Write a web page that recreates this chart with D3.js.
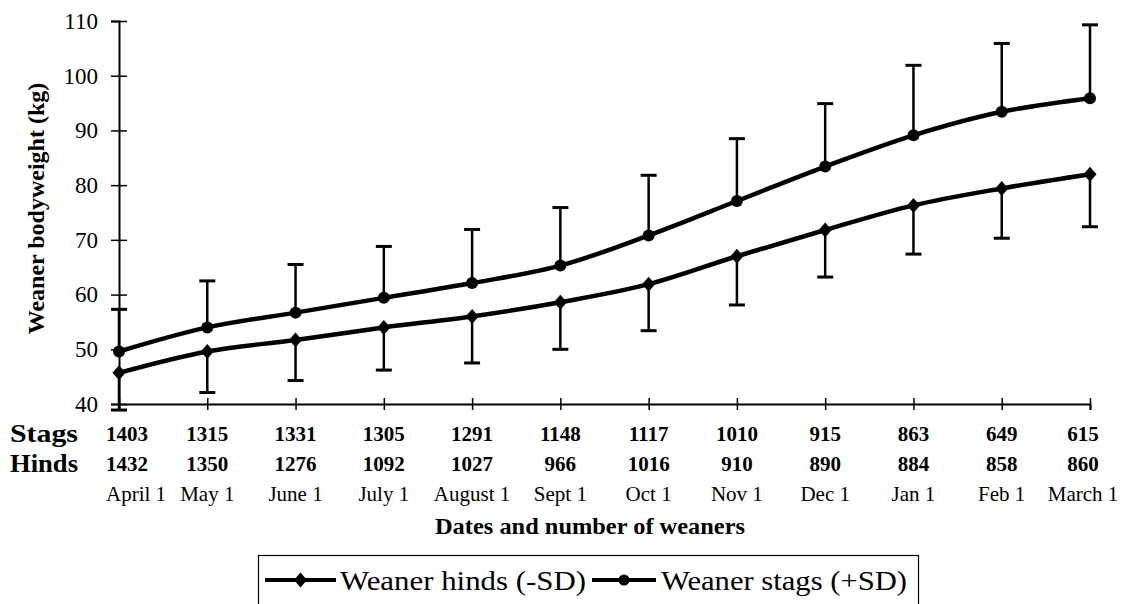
<!DOCTYPE html>
<html>
<head>
<meta charset="utf-8">
<script src="https://cdn.jsdelivr.net/npm/d3@7"></script>
<style>
  body { margin: 0; background: #fff; }
  text { font-family: "Liberation Serif", "Times New Roman", serif; fill: #000; }
</style>
</head>
<body>
<div id="container"></div>
<script>
// datos
var fechas = ["April 1", "May 1", "June 1", "July 1", "August 1", "Sept 1", "Oct 1", "Nov 1", "Dec 1", "Jan 1", "Feb 1", "March 1"]
var numStags = [1403, 1315, 1331, 1305, 1291, 1148, 1117, 1010, 915, 863, 649, 615]
var numHinds = [1432, 1350, 1276, 1092, 1027, 966, 1016, 910, 890, 884, 858, 860]
var mediaStags = [49.6, 54.0, 56.7, 59.4, 62.1, 65.3, 70.8, 77.1, 83.4, 89.1, 93.4, 95.9]
var sdStags = [7.7, 8.5, 8.8, 9.4, 9.8, 10.6, 11.0, 11.4, 11.5, 12.8, 12.5, 13.4]
var mediaHinds = [45.7, 49.6, 51.7, 54.0, 56.0, 58.6, 61.9, 67.0, 71.8, 76.3, 79.4, 82.0]
var sdHinds = [6.8, 7.5, 7.4, 7.8, 8.5, 8.6, 8.5, 8.9, 8.6, 8.9, 9.1, 9.6]
var ticksY = [40, 50, 60, 70, 80, 90, 100, 110]

var ancho = 1130
var alto = 604

var svg = d3.select("#container")
  .append("svg")
  .attr("width", ancho)
  .attr("height", alto)
  .attr("font-family", "Liberation Serif")

// escalas
var x = d3.scalePoint().domain(fechas).range([119, 1090])
var y = d3.scaleLinear().domain([40, 110]).range([404, 21])

// eje Y
var ejeY = svg.append("g")
  .attr("transform", "translate(" + x(fechas[0]) + ",0)")
  .call(d3.axisLeft(y).tickValues(ticksY).tickSizeOuter(0).tickSize(8).tickPadding(21))
ejeY.attr("font-family", "Liberation Serif")
ejeY.select(".domain").attr("stroke", "#000").attr("stroke-width", 2)
ejeY.selectAll(".tick line").attr("x1", -8).attr("x2", 8).attr("stroke", "#000").attr("stroke-width", 1.5)
ejeY.selectAll(".tick text")
  .attr("x", -21)
  .style("font-size", "23px")

// eje X
var ejeX = svg.append("g")
  .attr("transform", "translate(0," + y(40) + ")")
  .call(d3.axisBottom(x).tickSizeOuter(0).tickSize(6).tickFormat(""))
ejeX.select(".domain").attr("stroke", "#000").attr("stroke-width", 2)
ejeX.selectAll(".tick line").attr("y1", -6).attr("y2", 6).attr("stroke", "#000").attr("stroke-width", 1.5)

// titulos de ejes
svg.append("text")
  .attr("transform", "translate(44," + (y(75) - 4) + ") rotate(-90)")
  .attr("text-anchor", "middle")
  .style("font-size", "24px")
  .style("font-weight", "bold")
  .text("Weaner bodyweight (kg)")

svg.append("text")
  .attr("x", 590)
  .attr("y", 534)
  .attr("text-anchor", "middle")
  .style("font-size", "23px")
  .style("font-weight", "bold")
  .attr("textLength", 310)
  .attr("lengthAdjust", "spacingAndGlyphs")
  .text("Dates and number of weaners")

// filas de la tabla bajo el eje
function posEtiqueta(sel) {
  sel.attr("x", function(d, i) {
      if (i == 0) return x(fechas[i]) - 13
      if (i == fechas.length - 1) return x(fechas[i]) - 7
      return x(fechas[i])
    })
    .attr("text-anchor", function(d, i) { return i == 0 ? "start" : "middle" })
}

var filas = [
  { nombre: "Stags", valores: numStags, base: 441, negrita: true },
  { nombre: "Hinds", valores: numHinds, base: 471, negrita: true },
  { nombre: "", valores: fechas, base: 501, negrita: false }
]
filas.forEach(function(f) {
  if (f.nombre) {
    svg.append("text")
      .attr("x", 10)
      .attr("y", f.base + 1)
      .style("font-size", "26px")
      .style("font-weight", "bold")
      .attr("textLength", 68)
      .attr("lengthAdjust", "spacingAndGlyphs")
      .text(f.nombre)
  }
  svg.append("g").selectAll("text")
    .data(f.valores)
    .enter()
    .append("text")
    .attr("y", f.base)
    .style("font-size", "21px")
    .style("font-weight", f.negrita ? "bold" : "normal")
    .text(function(d) { return d })
    .call(posEtiqueta)
})

// barras de error
function barras(medias, sds, signo) {
  var g = svg.append("g")
  g.selectAll("line.v")
    .data(medias)
    .enter()
    .append("line")
    .attr("x1", function(d, i) { return x(fechas[i]) })
    .attr("x2", function(d, i) { return x(fechas[i]) })
    .attr("y1", function(d) { return y(d) })
    .attr("y2", function(d, i) { return y(d + signo * sds[i]) })
    .attr("stroke", "#000")
    .attr("stroke-width", 2.5)
  g.selectAll("line.c")
    .data(medias)
    .enter()
    .append("line")
    .attr("x1", function(d, i) { return x(fechas[i]) - 8 })
    .attr("x2", function(d, i) { return x(fechas[i]) + 8 })
    .attr("y1", function(d, i) { return y(d + signo * sds[i]) })
    .attr("y2", function(d, i) { return y(d + signo * sds[i]) })
    .attr("stroke", "#000")
    .attr("stroke-width", 3)
}
barras(mediaStags, sdStags, 1)
barras(mediaHinds, sdHinds, -1)

// lineas
var linea = d3.line()
  .x(function(d, i) { return x(fechas[i]) })
  .y(function(d) { return y(d) })
  .curve(d3.curveCatmullRom)

svg.append("path").datum(mediaStags)
  .attr("d", linea)
  .attr("fill", "none")
  .attr("stroke", "#000")
  .attr("stroke-width", 4.5)
svg.append("path").datum(mediaHinds)
  .attr("d", linea)
  .attr("fill", "none")
  .attr("stroke", "#000")
  .attr("stroke-width", 4.5)

// marcadores
var rombo = "M0,-7.5L6.5,0L0,7.5L-6.5,0Z"
svg.append("g").selectAll("circle")
  .data(mediaStags)
  .enter()
  .append("circle")
  .attr("cx", function(d, i) { return x(fechas[i]) })
  .attr("cy", function(d) { return y(d) })
  .attr("r", 6)
  .attr("fill", "#000")
svg.append("g").selectAll("path")
  .data(mediaHinds)
  .enter()
  .append("path")
  .attr("d", rombo)
  .attr("transform", function(d, i) { return "translate(" + x(fechas[i]) + "," + y(d) + ")" })
  .attr("fill", "#000")

// leyenda
var ley = svg.append("g")
ley.append("rect")
  .attr("x", 258.5).attr("y", 555.5)
  .attr("width", 660).attr("height", 70)
  .attr("fill", "none").attr("stroke", "#000").attr("stroke-width", 1.2)

var itemsLey = [
  { texto: "Weaner hinds (-SD)", marca: "rombo", x0: 265, lineaAncho: 71, xt: 340 },
  { texto: "Weaner stags (+SD)", marca: "circulo", x0: 592, lineaAncho: 64, xt: 661 }
]
itemsLey.forEach(function(it) {
  ley.append("line")
    .attr("x1", it.x0).attr("x2", it.x0 + it.lineaAncho)
    .attr("y1", 580).attr("y2", 580)
    .attr("stroke", "#000").attr("stroke-width", 4)
  if (it.marca == "rombo") {
    ley.append("path").attr("d", rombo)
      .attr("transform", "translate(" + (it.x0 + it.lineaAncho / 2) + ",580)")
  } else {
    ley.append("circle").attr("cx", it.x0 + it.lineaAncho / 2).attr("cy", 580).attr("r", 5.5)
  }
  ley.append("text")
    .attr("x", it.xt)
    .attr("y", 590)
    .style("font-size", "28px")
    .attr("textLength", 246)
    .attr("lengthAdjust", "spacingAndGlyphs")
    .text(it.texto)
})
</script>
</body>
</html>
